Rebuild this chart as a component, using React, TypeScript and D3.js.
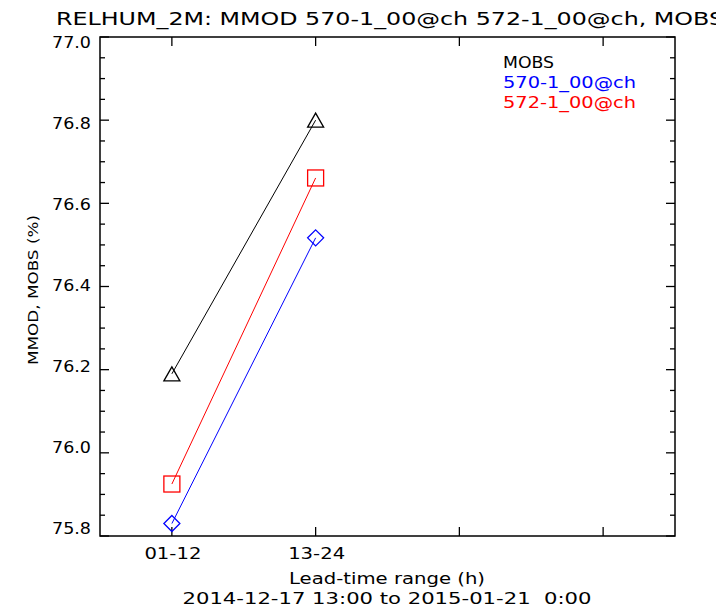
import React from "react";
import * as d3 from "d3";

const categories = ["01-12", "13-24"];
const mobs = [76.19, 76.8];
const exp570 = [75.83, 76.517];
const exp572 = [75.925, 76.661];
const yTicks = [75.8, 76.0, 76.2, 76.4, 76.6, 76.8, 77.0];
const xTickSlots = [0.5, 1.5, 2.5, 3.5];
const titleText = "RELHUM_2M: MMOD 570-1_00@ch 572-1_00@ch, MOBS";
const legendItems = [
  { label: "MOBS", color: "#000000" },
  { label: "570-1_00@ch", color: "#0000ff" },
  { label: "572-1_00@ch", color: "#ff0000" },
];

const W = 716;
const H = 610;
const L = 100, R = 675, T = 37, B = 536;
const FONT = "'DejaVu Sans', sans-serif";

export default function App() {
  const x = d3.scaleLinear().domain([0, 4]).range([L, R]);
  const y = d3.scaleLinear().domain([75.8, 77.0]).range([B, T]);
  const minor = d3.range(75.8, 77.0001, 0.05).map((v) => +v.toFixed(2));
  const line = d3
    .line<number>()
    .x((_, i) => x(i + 0.5))
    .y((d) => y(d));

  const labelOffset = (v: number) => 6 - (13 * (77 - v)) / 1.2;

  const tri = (cx: number, cy: number) =>
    `M${cx - 8},${cy + 7} L${cx},${cy - 7} L${cx + 8},${cy + 7} Z`;
  const dia = (cx: number, cy: number) =>
    `M${cx},${cy - 8} L${cx + 8},${cy} L${cx},${cy + 8} L${cx - 8},${cy} Z`;

  return (
    <svg
      width={W}
      height={H}
      style={{ position: "absolute", left: 0, top: 0, background: "#fff" }}
      fontFamily={FONT}
    >
      <rect x={0} y={0} width={W} height={H} fill="#fff" />
      <text x={56} y={25} fontSize={18} textLength={668} lengthAdjust="spacingAndGlyphs">
        {titleText}
      </text>

      {/* frame */}
      <rect x={L} y={T} width={R - L} height={B - T} fill="none" stroke="#000" strokeWidth={1.5} />

      {/* y ticks */}
      {minor.map((v) => {
        const isMajor = Math.abs(Math.round(v * 5) - v * 5) < 1e-6;
        const len = isMajor ? 9 : 5;
        const yy = y(v);
        return (
          <g key={"yt" + v}>
            <line x1={L} x2={L + len} y1={yy} y2={yy} stroke="#000" strokeWidth={1.3} />
            <line x1={R} x2={R - len} y1={yy} y2={yy} stroke="#000" strokeWidth={1.3} />
          </g>
        );
      })}
      {yTicks.map((v) => (
        <text
          key={"yl" + v}
          x={91}
          y={y(v) + labelOffset(v)}
          dy="0.35em"
          fontSize={15}
          textAnchor="end"
          textLength={39}
          lengthAdjust="spacingAndGlyphs"
        >
          {v.toFixed(1)}
        </text>
      ))}

      {/* x ticks */}
      {xTickSlots.map((s) => (
        <g key={"xt" + s}>
          <line x1={x(s)} x2={x(s)} y1={B} y2={B - 9} stroke="#000" strokeWidth={1.3} />
          <line x1={x(s)} x2={x(s)} y1={T} y2={T + 9} stroke="#000" strokeWidth={1.3} />
        </g>
      ))}
      {categories.map((c, i) => (
        <text
          key={c}
          x={x(i + 0.5) + 1}
          y={559}
          fontSize={15}
          textAnchor="middle"
          textLength={57}
          lengthAdjust="spacingAndGlyphs"
        >
          {c}
        </text>
      ))}

      <text x={387} y={584} fontSize={15} textAnchor="middle" textLength={196} lengthAdjust="spacingAndGlyphs">
        Lead-time range (h)
      </text>
      <text
        x={387}
        y={604}
        fontSize={15}
        textAnchor="middle"
        textLength={409}
        lengthAdjust="spacingAndGlyphs"
        style={{ whiteSpace: "pre" }}
      >
        {"2014-12-17 13:00 to 2015-01-21  0:00"}
      </text>

      <text
        transform={`translate(38,${290}) rotate(-90)`}
        fontSize={14}
        textAnchor="middle"
        textLength={150}
        lengthAdjust="spacingAndGlyphs"
      >
        MMOD, MOBS (%)
      </text>

      {/* series */}
      <path d={line(mobs) || ""} fill="none" stroke="#000" strokeWidth={1} />
      <path d={line(exp572) || ""} fill="none" stroke="#ff0000" strokeWidth={1} />
      <path d={line(exp570) || ""} fill="none" stroke="#0000ff" strokeWidth={1} />
      {mobs.map((v, i) => (
        <path key={"m" + i} d={tri(x(i + 0.5), y(v))} fill="none" stroke="#000" strokeWidth={1.3} />
      ))}
      {exp572.map((v, i) => (
        <rect
          key={"r" + i}
          x={x(i + 0.5) - 8}
          y={y(v) - 8}
          width={16}
          height={16}
          fill="none"
          stroke="#ff0000"
          strokeWidth={1.3}
        />
      ))}
      {exp570.map((v, i) => (
        <path key={"b" + i} d={dia(x(i + 0.5), y(v))} fill="none" stroke="#0000ff" strokeWidth={1.3} />
      ))}

      {/* legend */}
      {legendItems.map((it, i) => (
        <text
          key={it.label}
          x={503}
          y={68 + i * 20}
          fontSize={15}
          fill={it.color}
          textLength={i === 0 ? 51 : 133}
          lengthAdjust="spacingAndGlyphs"
        >
          {it.label}
        </text>
      ))}
    </svg>
  );
}
